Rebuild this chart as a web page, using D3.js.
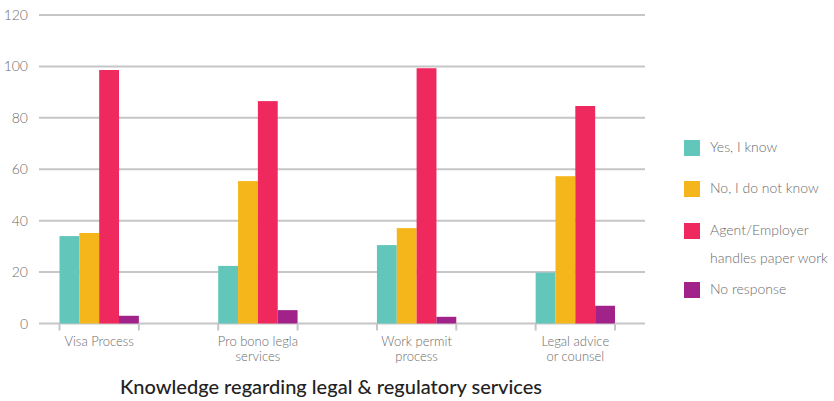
<!DOCTYPE html>
<html>
<head>
<meta charset="utf-8">
<script src="https://cdn.jsdelivr.net/npm/d3@7"></script>
<style>
  body { margin: 0; background: #fff; }
  text { font-family: Lato, "Open Sans", sans-serif; }
</style>
</head>
<body>
<div id="chart"></div>
<script>
// Данные
const categories = ["Visa Process", "Pro bono legla services", "Work permit process", "Legal advice or counsel"];
const categoryLines = [["Visa Process"], ["Pro bono legla", "services"], ["Work permit", "process"], ["Legal advice", "or counsel"]];
const seriesNames = ["Yes, I know", "No, I do not know", "Agent/Employer handles paper work", "No response"];
const legendLines = [["Yes, I know"], ["No, I do not know"], ["Agent/Employer", "handles paper work"], ["No response"]];
const yesKnow = [34, 22.4, 30.5, 19.8];
const noKnow = [35.2, 55.4, 37.1, 57.3];
const agentHandles = [98.6, 86.5, 99.3, 84.6];
const noResponse = [3, 5.2, 2.6, 6.9];
const yTicks = [0, 20, 40, 60, 80, 100, 120];
const colors = ["#62C6BB", "#F5B61B", "#EF295E", "#A1238A"];

const seriesValues = [yesKnow, noKnow, agentHandles, noResponse];

const width = 834, height = 401;
const gridLeft = 39, gridRight = 645;
const yBottom = 323.5, yTop = 15;

const svg = d3.select("#chart").append("svg")
    .attr("width", width)
    .attr("height", height);

// Шкалы
const yScale = d3.scaleLinear().domain([0, 120]).range([yBottom, yTop]);

const xScale = d3.scaleBand()
    .domain(categories)
    .range([59.5, 615])
    .paddingInner(0.5)
    .paddingOuter(0);

const xInner = d3.scaleBand()
    .domain(seriesNames)
    .range([0, xScale.bandwidth()]);

// Горизонтальные линии сетки
yTicks.forEach(t => {
    svg.append("line")
        .attr("x1", gridLeft)
        .attr("x2", gridRight)
        .attr("y1", yScale(t))
        .attr("y2", yScale(t))
        .attr("stroke", "#c6c6c8")
        .attr("stroke-width", 2);
    svg.append("text")
        .attr("x", 28)
        .attr("y", yScale(t) + 5)
        .attr("text-anchor", "end")
        .text(t)
        .style("fill", "#6b6b6b")
        .style("font-size", "14px")
        .style("font-weight", 300);
});

// Столбцы
categories.forEach((cat, i) => {
    seriesNames.forEach((s, j) => {
        const v = seriesValues[j][i];
        svg.append("rect")
            .attr("x", xScale(cat) + xInner(s))
            .attr("y", yScale(v))
            .attr("width", xInner.bandwidth())
            .attr("height", yScale(0) - yScale(v))
            .attr("fill", colors[j]);
    });
});

// Засечки оси X
categories.forEach(cat => {
    [xScale(cat), xScale(cat) + xScale.bandwidth()].forEach(x => {
        svg.append("line")
            .attr("x1", x).attr("x2", x)
            .attr("y1", yBottom).attr("y2", yBottom + 7)
            .attr("stroke", "#c6c6c8")
            .attr("stroke-width", 2);
    });
});

// Подписи категорий (по строкам)
categories.forEach((cat, i) => {
    categoryLines[i].forEach((line, k) => {
        svg.append("text")
            .attr("x", xScale(cat) + xScale.bandwidth() / 2)
            .attr("y", 346 + k * 15)
            .attr("text-anchor", "middle")
            .text(line)
            .style("fill", "#6b6b6b")
            .style("font-size", "13px")
            .style("font-weight", 300);
    });
});

// Легенда
const legendY = [148, 189, 231, 290];
seriesNames.forEach((s, j) => {
    svg.append("rect")
        .attr("x", 684)
        .attr("y", legendY[j] - 8)
        .attr("width", 16)
        .attr("height", 16)
        .attr("fill", colors[j]);
    legendLines[j].forEach((line, k) => {
        svg.append("text")
            .attr("x", 710)
            .attr("y", legendY[j] + 4 + k * 28)
            .text(line)
            .style("fill", "#6b6b6b")
            .style("font-size", "14px")
            .style("font-weight", 300);
    });
});

// Заголовок
svg.append("text")
    .attr("x", 331)
    .attr("y", 394)
    .attr("text-anchor", "middle")
    .text("Knowledge regarding legal & regulatory services")
    .style("fill", "#222")
    .style("font-size", "20px")
    .style("font-weight", 500);
</script>
</body>
</html>
